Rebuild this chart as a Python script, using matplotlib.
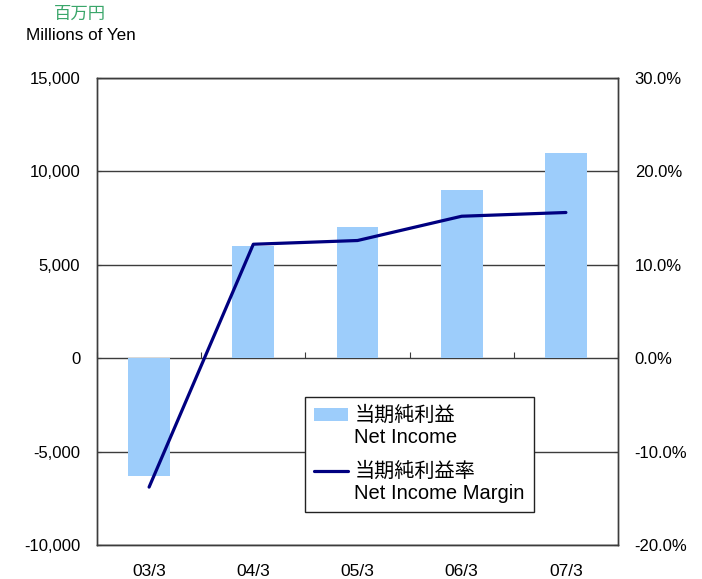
import matplotlib
matplotlib.use("Agg")
import matplotlib.pyplot as plt
import numpy as np
from matplotlib.ticker import FuncFormatter
from matplotlib.legend_handler import HandlerPatch, HandlerLine2D

plt.rcParams["font.family"] = ["Liberation Sans", "Noto Sans CJK JP", "DejaVu Sans"]

# ── data ───────────────────────────────────────────────────────
periods = ["03/3", "04/3", "05/3", "06/3", "07/3"]
net_income = [-6300, 6000, 7000, 9000, 11000]          # millions of yen
net_margin = [-13.8, 12.2, 12.6, 15.2, 15.6]           # %

BAR = "#9DCDFB"; LINE = "#000080"; GRID = "#3C3C3C"; GREEN = "#3AA66A"
LEG_FS = 14.5
# lift handles onto the first (Japanese) line of each two-line label
UP_PATCH = 0.63 * LEG_FS
UP_LINE = 1.17 * LEG_FS


class UpPatch(HandlerPatch):
    def create_artists(self, legend, orig, xd, yd, w, h, fs, trans):
        return super().create_artists(legend, orig, xd, yd - UP_PATCH, w, h, fs, trans)


class UpLine(HandlerLine2D):
    def create_artists(self, legend, orig, xd, yd, w, h, fs, trans):
        return super().create_artists(legend, orig, xd, yd - UP_LINE, w, h, fs, trans)


fig = plt.figure(figsize=(7.02, 5.79), dpi=100)
ax = fig.add_axes([97 / 702, 34 / 579, 521 / 702, 467 / 579])
ax2 = ax.twinx()

x = np.arange(len(periods))
bars = ax.bar(x, net_income, width=0.4, color=BAR, zorder=2)
line, = ax2.plot(x, net_margin, color=LINE, lw=2.3, solid_capstyle="round", zorder=3)

ax.set_xlim(-0.5, len(periods) - 0.5)
ax.set_ylim(-10000, 15000)
ax.set_yticks(np.arange(-10000, 15001, 5000))
ax.yaxis.set_major_formatter(FuncFormatter(lambda v, p: f"{int(v):,}"))
ax2.set_ylim(-20, 30)
ax2.set_yticks(np.arange(-20, 31, 10))
ax2.yaxis.set_major_formatter(FuncFormatter(lambda v, p: f"{v:.1f}%"))

ax.yaxis.grid(True, color=GRID, lw=1.0, zorder=1)
ax.set_axisbelow(True)
ax.set_xticks(x)
ax.set_xticklabels(periods)
ax.tick_params(axis="x", length=0, pad=14, labelsize=12.5)
ax.tick_params(axis="y", direction="in", length=3, pad=12, labelsize=12, color=GRID)
ax2.tick_params(axis="y", direction="in", length=3, pad=12, labelsize=12, color=GRID)
for a in (ax, ax2):
    for s in a.spines.values():
        s.set_color(GRID)
        s.set_linewidth(1.0)

# category ticks on the zero line
sec = ax.secondary_xaxis(0.4)
sec.set_xticks(np.arange(len(periods) + 1) - 0.5)
sec.tick_params(direction="in", length=4, labelbottom=False, color=GRID)
sec.spines["bottom"].set_visible(False)

leg = ax2.legend([bars[0], line], ["当期純利益\nNet Income", "当期純利益率\nNet Income Margin"],
                 loc="upper left", bbox_to_anchor=(0.399, 0.317),
                 borderaxespad=0, fontsize=LEG_FS, frameon=True, fancybox=False,
                 framealpha=1, handlelength=1.7, handleheight=0.6,
                 labelspacing=0.72, borderpad=0.45, handletextpad=0.3,
                 handler_map={bars[0]: UpPatch(), line: UpLine()})
leg.get_frame().set_edgecolor("#222222")
leg.get_frame().set_linewidth(1.0)
for t in leg.get_texts():
    t.set_linespacing(1.2)

fig.text(80 / 702, 1 - 14 / 579, "百万円", color=GREEN, fontsize=12.5, ha="center", va="center",
         family=["Noto Sans CJK JP"])
fig.text(81 / 702, 1 - 35 / 579, "Millions of Yen", fontsize=12.3, ha="center", va="center")

fig.savefig("out.png", dpi=100)
